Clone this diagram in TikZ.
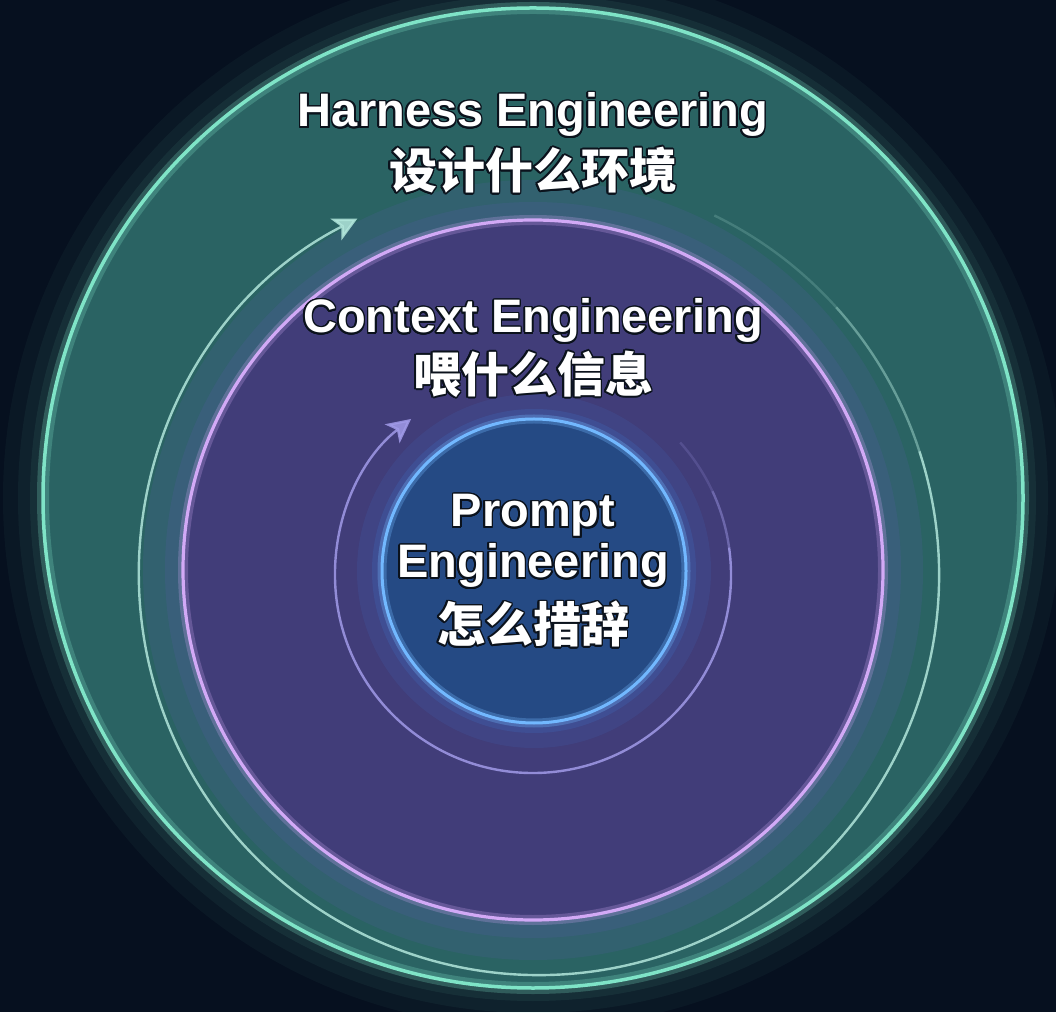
\documentclass[tikz,border=0pt]{standalone}
\usepackage{fontspec}
\setmainfont{Liberation Sans}
\newfontfamily\cjk{Noto Sans CJK SC}
\usepackage{contour}
\contourlength{1.6pt}
\contournumber{16}
\usepackage{tikz}
\usetikzlibrary{positioning}
\usetikzlibrary{arrows.meta}

\definecolor{bgcol}{HTML}{06101F}
\definecolor{edge}{HTML}{0B121C}
\definecolor{gcore}{HTML}{2A6363}
\definecolor{gmid}{HTML}{2D6E68}
\definecolor{grim}{HTML}{3E8E7C}
\definecolor{gring}{HTML}{7FE4C7}
\definecolor{pcore}{HTML}{413D79}
\definecolor{pmid}{HTML}{5C4A96}
\definecolor{prim}{HTML}{9468CC}
\definecolor{pring}{HTML}{D2A9F6}
\definecolor{phalo}{HTML}{4A5C96}
\definecolor{bcore}{HTML}{254A84}
\definecolor{bmid}{HTML}{2F5EA4}
\definecolor{brim}{HTML}{4C8EDC}
\definecolor{bring}{HTML}{72B8FF}
\definecolor{bhalo}{HTML}{3F66B8}
\definecolor{outerloopcol}{HTML}{B2E6DB}
\definecolor{innerloopcol}{HTML}{A19BE8}

\pgfdeclareradialshading{greendisc}{\pgfpointorigin}{color(0bp)=(gcore); color(38bp)=(gcore); color(47bp)=(gmid); color(50bp)=(grim)}
\pgfdeclareradialshading{purpledisc}{\pgfpointorigin}{color(0bp)=(pcore); color(30bp)=(pcore); color(41bp)=(pmid); color(50bp)=(prim)}
\pgfdeclareradialshading{bluedisc}{\pgfpointorigin}{color(0bp)=(bcore); color(26bp)=(bcore); color(40bp)=(bmid); color(50bp)=(brim)}

\begin{document}
\begin{tikzpicture}[x=1pt,y=1pt,
  title/.style={font=\fontsize{47}{52}\selectfont\bfseries, text=white, inner sep=0pt, anchor=base},
  subtitle/.style={font=\cjk\fontsize{48}{52}\selectfont\bfseries, text=white, inner sep=0pt},
  loop/.style={line width=2.4pt, line cap=butt},
  tip/.style={-{Stealth[length=24pt,width=24pt,inset=6pt]}}]

\useasboundingbox (0,0) rectangle (1056,1012);
\fill[bgcol] (0,0) rectangle (1056,1012);

\coordinate (harnessc) at (533,514);
\coordinate (contextc) at (533,442);
\coordinate (promptc) at (534,441);
\coordinate (outerloop) at (539,437);
\coordinate (innerloop) at (533,437);

% harness ring
\draw[gring, line width=80pt, opacity=.04] (harnessc) circle (490);
\draw[gring, line width=50pt, opacity=.05] (harnessc) circle (490);
\draw[gring, line width=26pt, opacity=.07] (harnessc) circle (490);
\shade[shading=greendisc] (harnessc) circle (490);
\draw[gring, line width=12pt, opacity=.25] (harnessc) circle (490);
\draw[gring, line width=3.5pt] (harnessc) circle (490);

% context ring
\draw[phalo, line width=80pt, opacity=.25] (contextc) circle (350);
\draw[phalo, line width=36pt, opacity=.3] (contextc) circle (350);
\shade[shading=purpledisc] (contextc) circle (350);
\draw[pring, line width=10pt, opacity=.25] (contextc) circle (350);
\draw[pring, line width=3.2pt] (contextc) circle (350);

% outer loop arrow
\draw[loop, outerloopcol, opacity=.2] ([shift={(64:400)}]outerloop) arc[start angle=64, end angle=42, radius=400];
\draw[loop, outerloopcol, opacity=.45] ([shift={(42:400)}]outerloop) arc[start angle=42, end angle=18, radius=400];
\draw[loop, tip, outerloopcol, opacity=.85] ([shift={(18:400)}]outerloop) arc[start angle=18, end angle=-243, radius=400];

% prompt ring
\draw[bhalo, line width=50pt, opacity=.18] (promptc) circle (152);
\draw[bhalo, line width=20pt, opacity=.3] (promptc) circle (152);
\shade[shading=bluedisc] (promptc) circle (152);
\draw[bring, line width=9pt, opacity=.3] (promptc) circle (152);
\draw[bring, line width=3pt] (promptc) circle (152);

% inner loop arrow
\draw[loop, innerloopcol, opacity=.2] ([shift={(42:198)}]innerloop) arc[start angle=42, end angle=25, radius=198];
\draw[loop, innerloopcol, opacity=.45] ([shift={(25:198)}]innerloop) arc[start angle=25, end angle=8, radius=198];
\draw[loop, tip, innerloopcol, opacity=.85] ([shift={(8:198)}]innerloop) arc[start angle=8, end angle=-232, radius=198];

% labels
\node (harness) [title] at (533,885) {\contour{edge}{Harness Engineering}};
\node (harnesscn) [subtitle] at (533,841) {\contour{edge}{设计什么环境}};
\node (context) [title] at (533,679) {\contour{edge}{Context Engineering}};
\node (contextcn) [subtitle] at (533,637) {\contour{edge}{喂什么信息}};
\node (prompt) [title] at (533,485) {\contour{edge}{Prompt}};
\node (promptsub) [title] at (533,434) {\contour{edge}{Engineering}};
\node (promptcn) [subtitle] at (533,387) {\contour{edge}{怎么措辞}};

\end{tikzpicture}
\end{document}
